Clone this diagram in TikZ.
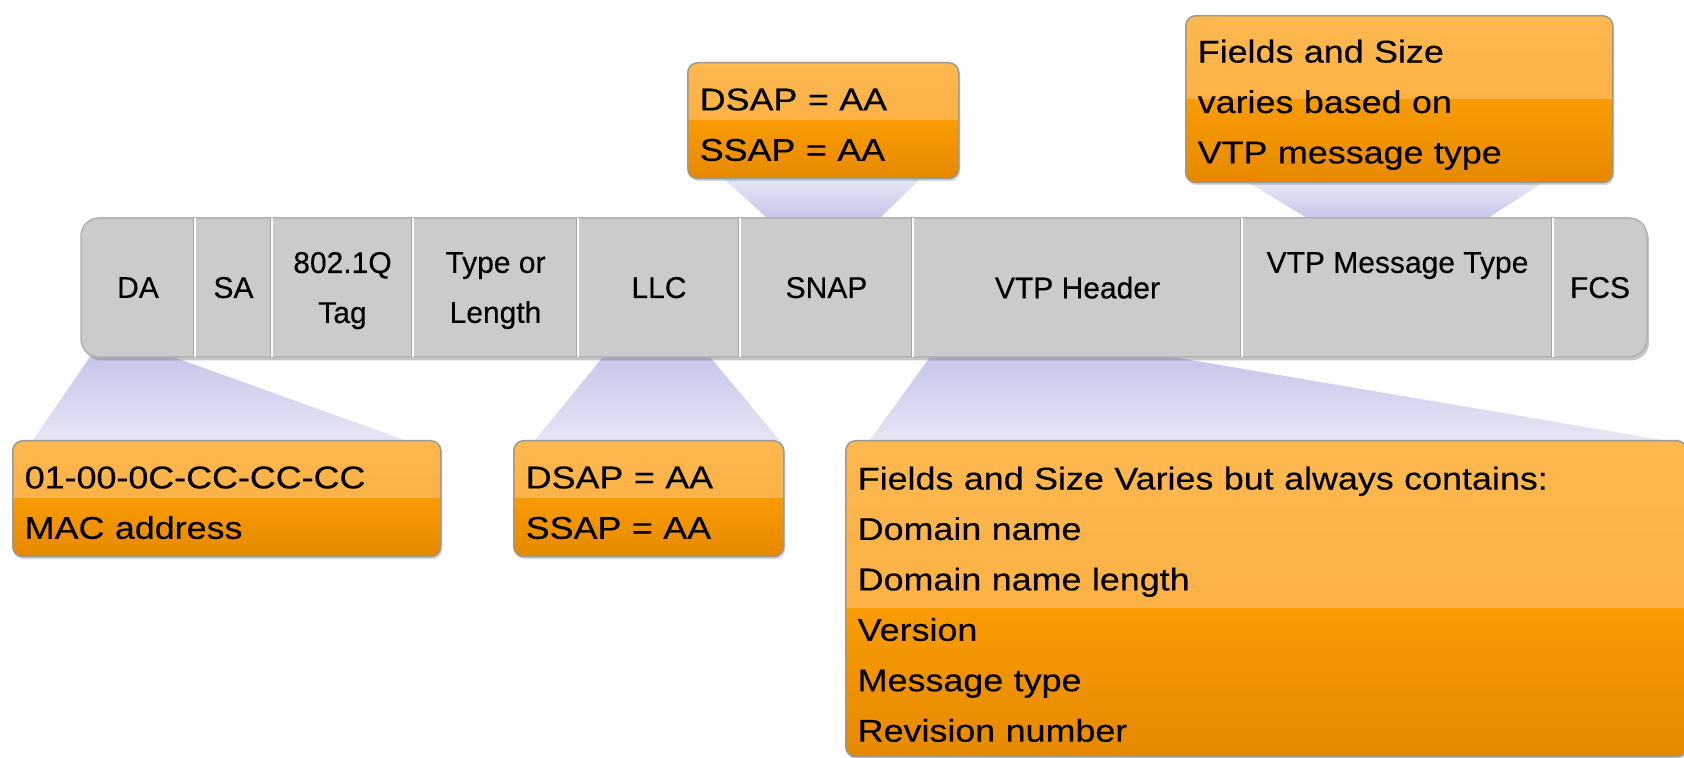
\documentclass[tikz,border=0pt]{standalone}
\usepackage{fontspec}
\setmainfont{Liberation Sans}
\newfontfamily\barfont{Liberation Sans}[FakeBold=0.35]
\newfontfamily\calloutfont{Liberation Sans}[FakeStretch=1.14, FakeBold=0.35]
\usepackage{tikz}
\usetikzlibrary{positioning,backgrounds,shadows}
\definecolor{barfill}{HTML}{CBCBCB}
\definecolor{calltop}{HTML}{FDB84F}
\definecolor{callupper}{HTML}{FBAC3D}
\definecolor{calllower}{HTML}{F99B02}
\definecolor{callbot}{HTML}{E68900}
\definecolor{funneldark}{HTML}{C6C6EB}
\definecolor{funnellight}{HTML}{E6E6F5}

\begin{document}
\begin{tikzpicture}[
  splitshift/.initial=0cm,
  cell/.style={rectangle, inner sep=0pt, outer sep=0pt, minimum height=2.78cm,
    align=center, text depth=0pt, font=\barfont\fontsize{17.07}{28.45}\selectfont},
  barbody/.style={fill=barfill, draw=black!30, line width=0.03cm, rounded corners=0.36cm,
    drop shadow={shadow xshift=0.04cm, shadow yshift=-0.07cm, opacity=0.45}},
  divider/.style={white, line width=0.035cm},
  dividershade/.style={black!35, line width=0.025cm},
  callout/.style={rectangle, anchor=north west, rounded corners=0.2cm, draw=black!40,
    line width=0.03cm, inner xsep=0.24cm, inner ysep=0pt, align=left, text height=0.6cm,
    font=\calloutfont\fontsize{17.9}{28.7}\selectfont,
    drop shadow={shadow xshift=0.03cm, shadow yshift=-0.05cm, opacity=0.3},
    path picture={
      \shade[sharp corners, top color=calltop, bottom color=callupper]
        (path picture bounding box.north west) rectangle
        ([yshift=\pgfkeysvalueof{/tikz/splitshift}]path picture bounding box.east);
      \shade[sharp corners, top color=calllower, bottom color=callbot]
        ([yshift=\pgfkeysvalueof{/tikz/splitshift}]path picture bounding box.west) rectangle
        (path picture bounding box.south east);
    }},
  funneldown/.style={top color=funneldark, bottom color=funnellight},
  funnelup/.style={top color=funnellight, bottom color=funneldark}
]
  \useasboundingbox (0,0) rectangle (33.68,15.16);

  % frame fields
  \node[cell, minimum width=2.28cm, anchor=west] (da) at (1.62,9.41) {DA};
  \node[cell, minimum width=1.54cm, right=0pt of da] (sa) {SA};
  \node[cell, minimum width=2.82cm, right=0pt of sa] (tag) {802.1Q\\Tag};
  \node[cell, minimum width=3.30cm, right=0pt of tag] (typelen) {Type or\\Length};
  \node[cell, minimum width=3.24cm, right=0pt of typelen] (llc) {LLC};
  \node[cell, minimum width=3.46cm, right=0pt of llc] (snap) {SNAP};
  \node[cell, minimum width=6.58cm, right=0pt of snap] (vtphdr) {VTP Header};
  \node[cell, minimum width=6.22cm, right=0pt of vtphdr] (vtpmsg) {VTP Message Type\\\mbox{}};
  \node[cell, minimum width=1.88cm, right=0pt of vtpmsg] (fcs) {FCS};
  \foreach \f in {da,sa,tag,typelen,llc,snap,vtphdr,vtpmsg} {
    \draw[dividershade] ([xshift=-0.03cm]\f.north east) -- ([xshift=-0.03cm]\f.south east);
    \draw[divider] (\f.north east) -- (\f.south east);
  }

  % callouts
  \node[callout, text width=8.08cm, minimum height=2.32cm] (macbox) at (0.24,6.36)
    {01-00-0C-CC-CC-CC\\MAC address};
  \node[callout, text width=4.92cm, minimum height=2.32cm] (llcbox) at (10.26,6.36)
    {DSAP = AA\\SSAP = AA};
  \node[callout, text width=4.94cm, minimum height=2.32cm] (snapbox) at (13.74,13.92)
    {DSAP = AA\\SSAP = AA};
  \node[callout, text width=8.06cm, minimum height=3.34cm, text height=0.68cm] (msgbox) at (23.70,14.86)
    {Fields and Size\\varies based on\\VTP message type};
  \node[callout, text width=16.34cm, minimum height=6.32cm, text height=0.68cm, splitshift=-0.2cm] (hdrbox) at (16.90,6.36)
    {Fields and Size Varies but always contains:\\Domain name\\Domain name length\\Version\\Message type\\Revision number};

  \begin{scope}[on background layer]
    \shade[funneldown] ([xshift=0.18cm]da.south west) -- ([xshift=-0.44cm]da.south east)
      -- ([xshift=-0.74cm]macbox.north east) -- ([xshift=0.42cm]macbox.north west) -- cycle;
    \shade[funneldown] ([xshift=0.50cm]llc.south west) -- ([xshift=-0.60cm]llc.south east)
      -- ([xshift=-0.10cm]llcbox.north east) -- ([xshift=0.44cm]llcbox.north west) -- cycle;
    \shade[funneldown] ([xshift=0.34cm]vtphdr.south west) -- ([xshift=-1.38cm]vtphdr.south east)
      -- ([xshift=-0.52cm]hdrbox.north east) -- ([xshift=0.50cm]hdrbox.north west) -- cycle;
    \shade[funnelup] ([xshift=0.76cm]snapbox.south west) -- ([xshift=-0.80cm]snapbox.south east)
      -- ([xshift=-0.66cm]snap.north east) -- ([xshift=0.54cm]snap.north west) -- cycle;
    \shade[funnelup] ([xshift=1.30cm]msgbox.south west) -- ([xshift=-1.44cm]msgbox.south east)
      -- ([xshift=-1.30cm]vtpmsg.north east) -- ([xshift=1.30cm]vtpmsg.north west) -- cycle;
    \path[barbody] (da.north west) rectangle (fcs.south east);
  \end{scope}
\end{tikzpicture}
\end{document}
